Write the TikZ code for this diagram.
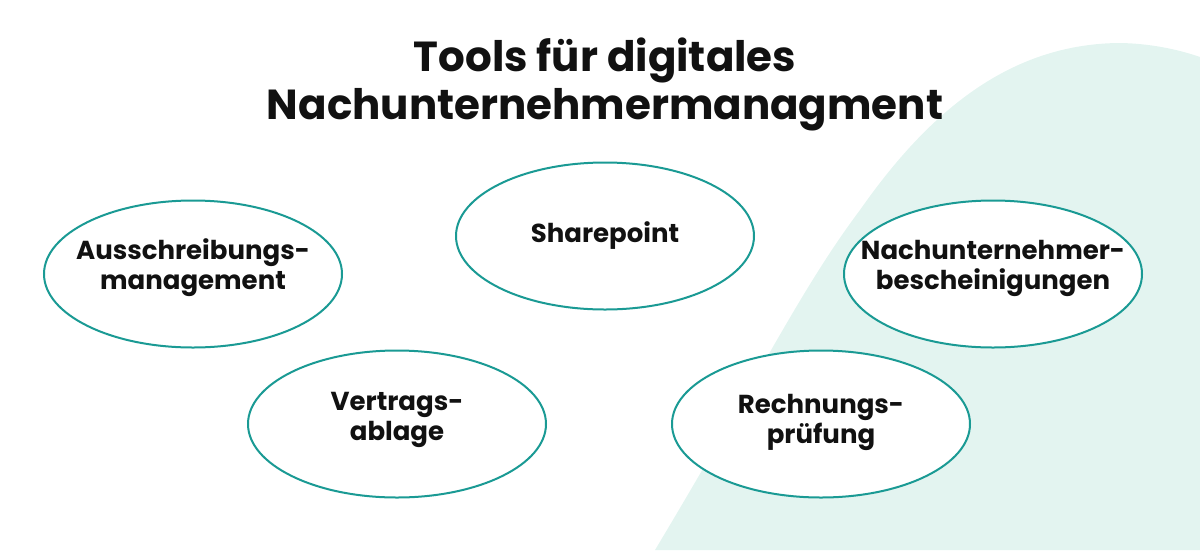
\documentclass[tikz,border=0pt]{standalone}
\usepackage{fontspec}
\setmainfont{Poppins}
\usetikzlibrary{shapes.geometric}
\definecolor{toolteal}{HTML}{1A9A94}
\definecolor{mint}{HTML}{E3F4F0}
\definecolor{ink}{HTML}{111111}

\begin{document}
\begin{tikzpicture}
    [   x = 1pt
    ,   y = -1pt
    ,   tool/.style =
        {   draw = toolteal
        ,   line width = 2pt
        ,   fill = white
        ,   ellipse
        ,   inner sep = 0mm
        ,   minimum width = 298pt
        ,   minimum height = 147pt
        }
    ,   toolname/.style =
        {   align = center
        ,   text = ink
        ,   inner sep = 0mm
        ,   font = \bfseries\fontsize{26}{30}\selectfont
        }
    ,   heading/.style =
        {   align = center
        ,   text = ink
        ,   font = \bfseries\fontsize{42}{48}\selectfont
        }
    ]
    \useasboundingbox (0,0) rectangle (1200,550);
    % background blob
    \fill[mint] (655,550) .. controls (760,375) and (800,290) .. (860,210)
        .. controls (930,110) and (1010,45) .. (1117,43)
        .. controls (1150,43) and (1180,50) .. (1200,57)
        -- (1200,550) -- cycle;
    \node[heading] (title) at (605,84) {Tools für digitales\\Nachunternehmermanagment};
    \foreach \tname/\tx/\ty/\ts/\ttext in {aus/193/274/6/{Ausschreibungs-\\management}, share/605/236/0/{Sharepoint}, nach/993/274/6/{Nachunternehmer-\\bescheinigungen}, vertrag/397/424/4/{Vertrags-\\ablage}, rechnung/821/424/2/{Rechnungs-\\prüfung}}
    {   \node[tool] (\tname) at (\tx,\ty) {};
        \node[toolname,yshift=\ts pt] (\tname-txt) at (\tname.center) {\ttext};
    }
\end{tikzpicture}
\end{document}
